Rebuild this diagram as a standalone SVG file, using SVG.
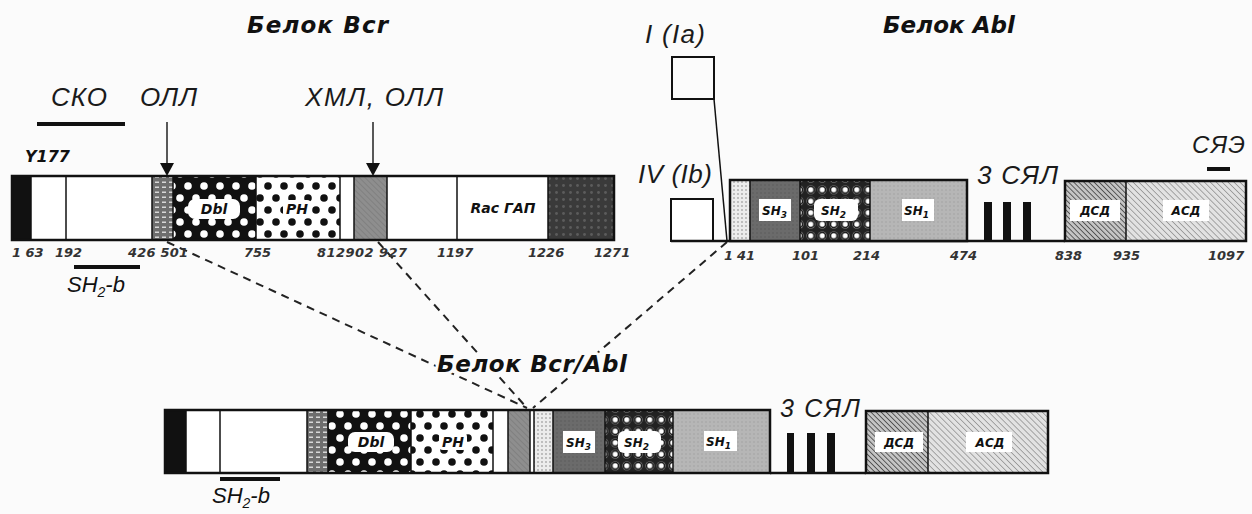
<svg xmlns="http://www.w3.org/2000/svg" width="1252" height="514" viewBox="0 0 1252 514">
<style>
text{font-family:"Liberation Sans",Arial,sans-serif;fill:#111}
.t{font-family:"DejaVu Sans",Verdana,sans-serif;font-weight:bold;font-style:italic;font-size:23px}
.l{font-style:italic;font-size:26px;fill:#1a1a1a}
.n{font-family:"DejaVu Sans",Verdana,sans-serif;font-weight:bold;font-style:italic;font-size:13px;fill:#333}
.b{font-family:"DejaVu Sans",Verdana,sans-serif;font-weight:bold;font-style:italic;font-size:12px}
.o{fill:none;stroke:#111;stroke-width:2.5}
.d{stroke:#111;stroke-width:1.5}
.dash{fill:none;stroke:#222;stroke-width:2;stroke-dasharray:8 6}
.w{fill:#fff}
</style>
<defs>
<pattern id="dbl" width="16" height="24" patternUnits="userSpaceOnUse">
<rect width="16" height="24" fill="#111"/><circle cx="4" cy="6" r="3.8" fill="#fff"/><circle cx="12" cy="18" r="3.8" fill="#fff"/>
</pattern>
<pattern id="ph" width="16" height="24" patternUnits="userSpaceOnUse">
<rect width="16" height="24" fill="#fff"/><circle cx="4" cy="6" r="3.8" fill="#111"/><circle cx="12" cy="18" r="3.8" fill="#111"/>
</pattern>
<pattern id="rings" width="11.5" height="11.5" patternUnits="userSpaceOnUse">
<rect width="11.5" height="11.5" fill="#222"/><circle cx="5.75" cy="5.75" r="4.3" fill="#fff" stroke="none"/><circle cx="5.75" cy="5.75" r="3.4" fill="none" stroke="#111" stroke-width="1.6"/>
</pattern>
<pattern id="brick" width="7" height="5" patternUnits="userSpaceOnUse">
<rect width="7" height="5" fill="#6e6e6e"/><rect x="1" y="1.5" width="4" height="1.5" fill="#d8d8d8"/>
</pattern>
<pattern id="gh" width="4" height="4" patternUnits="userSpaceOnUse" patternTransform="rotate(-45)">
<rect width="4" height="4" fill="#8e8e8e"/><line x1="0" y1="0" x2="0" y2="4" stroke="#777" stroke-width="1.2"/>
</pattern>
<pattern id="dk" width="7" height="7" patternUnits="userSpaceOnUse">
<rect width="7" height="7" fill="#3a3a3a"/><circle cx="3.5" cy="3.5" r="1.4" fill="#5c5c5c"/>
</pattern>
<pattern id="lt" width="4" height="4" patternUnits="userSpaceOnUse">
<rect width="4" height="4" fill="#ececec"/><circle cx="2" cy="2" r="0.9" fill="#a8a8a8"/>
</pattern>
<pattern id="sh3" width="4" height="4" patternUnits="userSpaceOnUse">
<rect width="4" height="4" fill="#6b6b6b"/><circle cx="1" cy="1" r="0.8" fill="#5a5a5a"/>
</pattern>
<pattern id="sh1" width="4" height="4" patternUnits="userSpaceOnUse">
<rect width="4" height="4" fill="#b6b6b6"/><circle cx="2" cy="2" r="0.8" fill="#a2a2a2"/>
</pattern>
<pattern id="dsd" width="3.6" height="3.6" patternUnits="userSpaceOnUse" patternTransform="rotate(-45)">
<rect width="3.6" height="3.6" fill="#c4c4c4"/><line x1="0" y1="0" x2="0" y2="3.6" stroke="#222" stroke-width="1.3"/>
</pattern>
<pattern id="asd" width="4.2" height="4.2" patternUnits="userSpaceOnUse" patternTransform="rotate(-45)">
<rect width="4.2" height="4.2" fill="#e2e2e2"/><line x1="0" y1="0" x2="0" y2="4.2" stroke="#7a7a7a" stroke-width="1.2"/>
</pattern>
</defs>
<rect width="1252" height="514" fill="#fbfbfb"/>

<g id="connectors">
<line class="dash" x1="167" y1="242" x2="527" y2="408"/>
<line class="dash" x1="378" y1="242" x2="527" y2="408"/>
<line class="dash" x1="727" y1="242" x2="533" y2="408"/>
<line x1="167" y1="122" x2="167" y2="164" stroke="#222" stroke-width="1.5"/>
<polygon points="160,163 174,163 167,176" fill="#111"/>
<line x1="373" y1="122" x2="373" y2="164" stroke="#222" stroke-width="1.5"/>
<polygon points="366,163 380,163 373,176" fill="#111"/>
<line x1="714" y1="99" x2="727" y2="241" stroke="#111" stroke-width="1.5"/>
</g>

<g id="bcr">
<text class="t" x="247" y="33" textLength="141">Белок Bcr</text>
<text class="l" x="51" y="106" textLength="56">СКО</text>
<rect x="37" y="122" width="88" height="4" fill="#111"/>
<text class="l" x="140" y="106" textLength="57">ОЛЛ</text>
<text class="l" x="305" y="106" textLength="138">ХМЛ, ОЛЛ</text>
<text class="t" x="25" y="162" style="font-size:16px">Y177</text>
<rect x="12" y="176" width="602" height="64" class="w"/>
<rect x="12" y="176" width="19" height="64" fill="#111"/>
<rect x="152" y="176" width="21" height="64" fill="url(#brick)"/>
<rect x="173" y="176" width="83" height="64" fill="url(#dbl)"/>
<rect x="256" y="176" width="84" height="64" fill="url(#ph)"/>
<rect x="354" y="176" width="33" height="64" fill="url(#gh)"/>
<rect x="548" y="176" width="66" height="64" fill="url(#dk)"/>
<g class="d">
<line x1="31" y1="176" x2="31" y2="240"/><line x1="66" y1="176" x2="66" y2="240"/>
<line x1="152" y1="176" x2="152" y2="240"/><line x1="173" y1="176" x2="173" y2="240"/>
<line x1="256" y1="176" x2="256" y2="240"/><line x1="340" y1="176" x2="340" y2="240"/>
<line x1="354" y1="176" x2="354" y2="240"/><line x1="387" y1="176" x2="387" y2="240"/>
<line x1="457" y1="176" x2="457" y2="240"/><line x1="548" y1="176" x2="548" y2="240"/>
</g>
<rect class="o" x="12" y="176" width="602" height="64"/>
<rect x="188" y="199" width="52" height="20" rx="7" class="w"/>
<text class="b" x="214" y="214" text-anchor="middle" style="font-size:14px">Dbl</text>
<rect x="283" y="200" width="28" height="17" rx="4" class="w"/>
<text class="b" x="297" y="214" text-anchor="middle" style="font-size:14px">PH</text>
<text class="b" x="503" y="213" text-anchor="middle" style="font-size:14px">Rac ГАП</text>
<text class="n" x="12" y="257">1 63</text>
<text class="n" x="55" y="257">192</text>
<text class="n" x="128" y="257" textLength="60">426 501</text>
<text class="n" x="244" y="257">755</text>
<text class="n" x="317" y="257" textLength="90">812902 927</text>
<text class="n" x="437" y="257">1197</text>
<text class="n" x="528" y="257">1226</text>
<text class="n" x="594" y="257">1271</text>
<rect x="74" y="265" width="66" height="4" fill="#111"/>
<text x="67" y="292" font-size="22" font-style="italic">SH<tspan font-size="14" dy="5">2</tspan><tspan dy="-5">-b</tspan></text>
</g>

<g id="abl">
<text class="t" x="883" y="33" textLength="132">Белок Abl</text>
<text class="l" x="645" y="43" textLength="60">I (Ia)</text>
<rect x="672" y="57" width="42" height="42" fill="none" stroke="#111" stroke-width="2"/>
<text class="l" x="638" y="183" textLength="74">IV (Ib)</text>
<rect x="671" y="199" width="42" height="42" class="w" stroke="#111" stroke-width="2"/>
<line x1="671" y1="241" x2="1065" y2="241" stroke="#111" stroke-width="2.5"/>
<rect x="730" y="180" width="20" height="61" fill="url(#lt)"/>
<rect x="750" y="180" width="50" height="61" fill="url(#sh3)"/>
<rect x="800" y="180" width="70" height="61" fill="url(#rings)"/>
<rect x="870" y="180" width="97" height="61" fill="url(#sh1)"/>
<g class="d">
<line x1="750" y1="180" x2="750" y2="241"/><line x1="800" y1="180" x2="800" y2="241"/><line x1="870" y1="180" x2="870" y2="241"/>
</g>
<rect class="o" x="730" y="180" width="237" height="61"/>
<rect x="984" y="202" width="8" height="39" fill="#111"/>
<rect x="1003" y="202" width="8" height="39" fill="#111"/>
<rect x="1023" y="202" width="8" height="39" fill="#111"/>
<rect x="1065" y="181" width="61" height="60" fill="url(#dsd)"/>
<rect x="1126" y="181" width="120" height="60" fill="url(#asd)"/>
<line class="d" x1="1126" y1="181" x2="1126" y2="241"/>
<rect class="o" x="1065" y="181" width="181" height="60"/>
<rect x="759" y="199" width="32" height="22" class="w"/>
<text class="b" x="762" y="215">SH<tspan font-size="9" dy="3">3</tspan></text>
<rect x="814" y="199" width="44" height="22" rx="6" class="w"/>
<text class="b" x="821" y="215">SH<tspan font-size="9" dy="3">2</tspan></text>
<rect x="902" y="199" width="32" height="22" class="w"/>
<text class="b" x="904" y="215">SH<tspan font-size="9" dy="3">1</tspan></text>
<rect x="1070" y="200" width="50" height="21" class="w"/>
<text class="b" x="1095" y="215" text-anchor="middle">ДСД</text>
<rect x="1163" y="200" width="46" height="21" class="w"/>
<text class="b" x="1186" y="215" text-anchor="middle">АСД</text>
<text class="l" x="977" y="184" textLength="81">3 СЯЛ</text>
<text class="l" x="1192" y="153" style="font-size:24px" textLength="53">СЯЭ</text>
<rect x="1207" y="167" width="23" height="4" fill="#111"/>
<text class="n" x="724" y="260">1</text>
<text class="n" x="737" y="260">41</text>
<text class="n" x="792" y="260">101</text>
<text class="n" x="853" y="260">214</text>
<text class="n" x="950" y="260">474</text>
<text class="n" x="1055" y="260">838</text>
<text class="n" x="1113" y="260">935</text>
<text class="n" x="1208" y="260">1097</text>
</g>

<g id="bcr-abl">
<text class="t" x="437" y="372" textLength="190" stroke="#fbfbfb" stroke-width="6" paint-order="stroke" stroke-linejoin="round">Белок Bcr/Abl</text>
<rect x="165" y="410" width="605" height="63" class="w"/>
<rect x="165" y="410" width="21" height="63" fill="#111"/>
<rect x="307" y="410" width="21" height="63" fill="url(#brick)"/>
<rect x="328" y="410" width="83" height="63" fill="url(#dbl)"/>
<rect x="411" y="410" width="82" height="63" fill="url(#ph)"/>
<rect x="508" y="410" width="22" height="63" fill="url(#gh)"/>
<rect x="534" y="410" width="19" height="63" fill="url(#lt)"/>
<rect x="553" y="410" width="52" height="63" fill="url(#sh3)"/>
<rect x="605" y="410" width="68" height="63" fill="url(#rings)"/>
<rect x="673" y="410" width="97" height="63" fill="url(#sh1)"/>
<g class="d">
<line x1="186" y1="410" x2="186" y2="473"/><line x1="220" y1="410" x2="220" y2="473"/>
<line x1="307" y1="410" x2="307" y2="473"/><line x1="328" y1="410" x2="328" y2="473"/>
<line x1="411" y1="410" x2="411" y2="473"/><line x1="493" y1="410" x2="493" y2="473"/>
<line x1="508" y1="410" x2="508" y2="473"/><line x1="530" y1="410" x2="530" y2="473"/>
<line x1="534" y1="410" x2="534" y2="473"/><line x1="553" y1="410" x2="553" y2="473"/>
<line x1="605" y1="410" x2="605" y2="473"/><line x1="673" y1="410" x2="673" y2="473"/>
</g>
<rect class="o" x="165" y="410" width="605" height="63"/>
<line x1="770" y1="473" x2="866" y2="473" stroke="#111" stroke-width="2.5"/>
<rect x="787" y="433" width="7" height="40" fill="#111"/>
<rect x="807" y="433" width="8" height="40" fill="#111"/>
<rect x="827" y="433" width="8" height="40" fill="#111"/>
<rect x="866" y="411" width="62" height="62" fill="url(#dsd)"/>
<rect x="928" y="411" width="120" height="62" fill="url(#asd)"/>
<line class="d" x1="928" y1="411" x2="928" y2="473"/>
<rect class="o" x="866" y="411" width="182" height="62"/>
<rect x="348" y="432" width="46" height="20" rx="7" class="w"/>
<text class="b" x="371" y="447" text-anchor="middle" style="font-size:14px">Dbl</text>
<rect x="439" y="433" width="28" height="17" rx="4" class="w"/>
<text class="b" x="453" y="447" text-anchor="middle" style="font-size:14px">PH</text>
<rect x="563" y="431" width="32" height="22" class="w"/>
<text class="b" x="566" y="447">SH<tspan font-size="9" dy="3">3</tspan></text>
<rect x="618" y="431" width="43" height="22" rx="6" class="w"/>
<text class="b" x="624" y="447">SH<tspan font-size="9" dy="3">2</tspan></text>
<rect x="704" y="431" width="33" height="20" class="w"/>
<text class="b" x="706" y="446">SH<tspan font-size="9" dy="3">1</tspan></text>
<rect x="875" y="432" width="48" height="20" class="w"/>
<text class="b" x="899" y="447" text-anchor="middle">ДСД</text>
<rect x="966" y="432" width="46" height="20" class="w"/>
<text class="b" x="990" y="447" text-anchor="middle">АСД</text>
<text class="l" x="780" y="417" style="font-size:25px" textLength="80">3 СЯЛ</text>
<rect x="220" y="477" width="60" height="4" fill="#111"/>
<text x="212" y="503" font-size="22" font-style="italic">SH<tspan font-size="14" dy="5">2</tspan><tspan dy="-5">-b</tspan></text>
</g>
</svg>
